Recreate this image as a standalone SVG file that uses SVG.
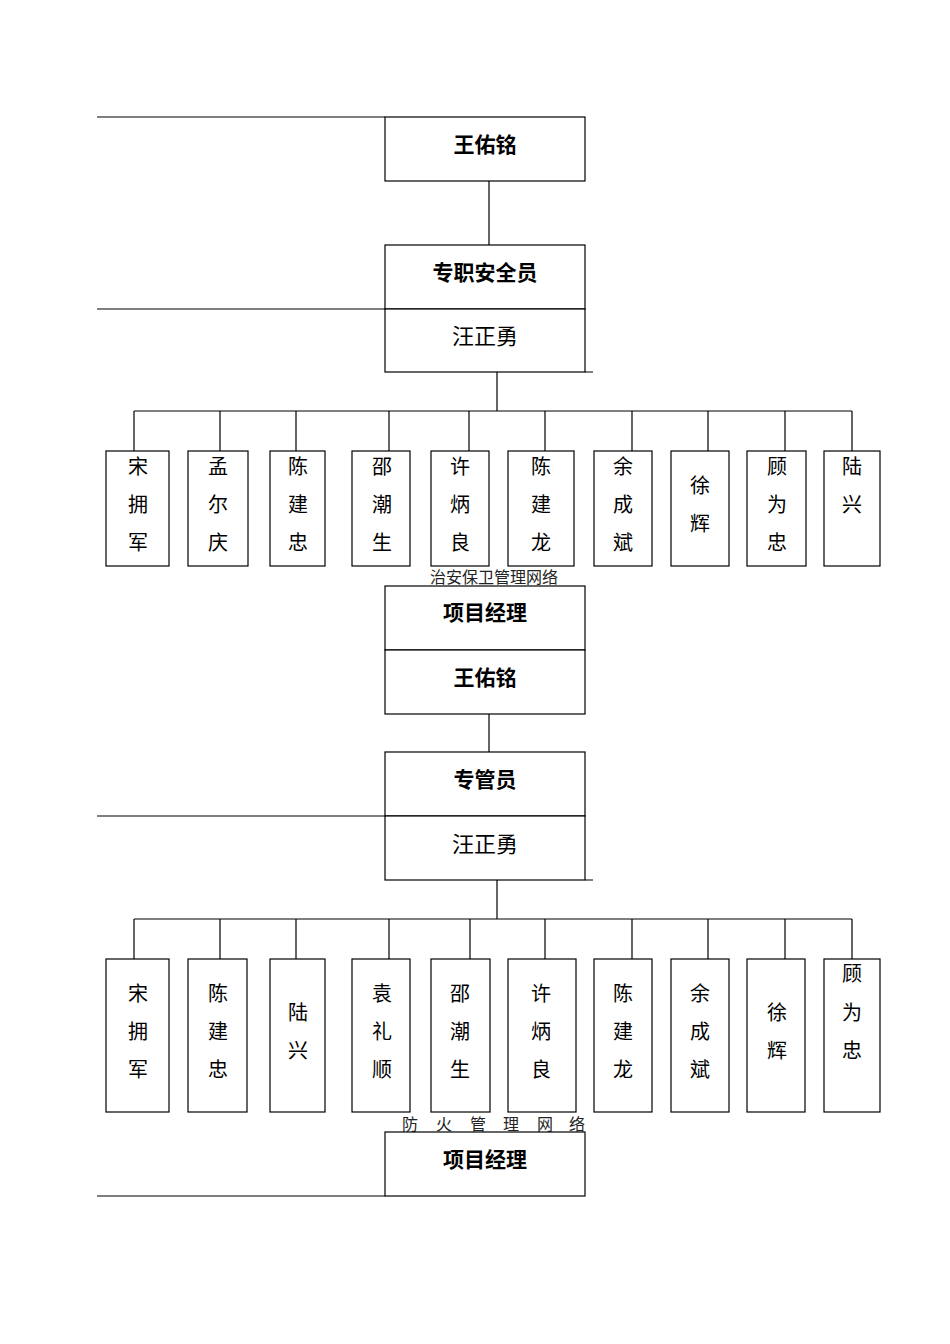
<svg xmlns="http://www.w3.org/2000/svg" width="950" height="1344" viewBox="0 0 950 1344">
<style>
.b{fill:#fff;stroke:#000;stroke-width:1.2}
.l{stroke:#000;stroke-width:1.2;fill:none}
.h{font-family:"Noto Sans CJK SC",sans-serif;font-size:21px;font-weight:bold;text-anchor:middle;dominant-baseline:central}
.h2{font-family:"Noto Sans CJK SC",sans-serif;font-size:22px;text-anchor:middle;dominant-baseline:central}
.n{font-family:"Noto Sans CJK SC",sans-serif;font-size:20px;text-anchor:middle;dominant-baseline:central}
.t{font-family:"Noto Sans CJK SC",sans-serif;font-size:16px;text-anchor:middle;dominant-baseline:central;fill:#222}
</style>
<rect width="950" height="1344" fill="#fff"/>
<g id="connectors">
<path class="l" d="M97 117H385M489 181V245M97 309H385M585 372H593M497 372V411M134 411H852M134 411V451M220 411V451M296 411V451M389 411V451M469 411V451M545 411V451M632 411V451M708 411V451M785 411V451M852 411V451"/>
<path class="l" d="M489 714V752M97 816H385M585 880H593M497 880V919M134 919H852M134 919V959M220 919V959M296 919V959M389 919V959M470 919V959M545 919V959M632 919V959M708 919V959M785 919V959M852 919V959M97 1196H385"/>
</g>
<g id="n1"><rect class="b" x="385" y="117" width="200" height="64"/><text class="h" x="485" y="143">王佑铭</text></g>
<g id="n2"><rect class="b" x="385" y="245" width="200" height="64"/><text class="h" x="485" y="271">专职安全员</text></g>
<g id="n3"><rect class="b" x="385" y="309" width="200" height="63"/><text class="h2" x="485" y="334">汪正勇</text></g>
<g id="c1"><rect class="b" x="106" y="451" width="63" height="115"/><text class="n" x="138" y="465">宋</text><text class="n" x="138" y="503">拥</text><text class="n" x="138" y="541">军</text></g>
<g id="c2"><rect class="b" x="188" y="451" width="60" height="115"/><text class="n" x="218" y="465">孟</text><text class="n" x="218" y="503">尔</text><text class="n" x="218" y="541">庆</text></g>
<g id="c3"><rect class="b" x="270" y="451" width="55" height="115"/><text class="n" x="298" y="465">陈</text><text class="n" x="298" y="503">建</text><text class="n" x="298" y="541">忠</text></g>
<g id="c4"><rect class="b" x="352" y="451" width="58" height="115"/><text class="n" x="382" y="465">邵</text><text class="n" x="382" y="503">潮</text><text class="n" x="382" y="541">生</text></g>
<g id="c5"><rect class="b" x="431" y="451" width="58" height="115"/><text class="n" x="460" y="465">许</text><text class="n" x="460" y="503">炳</text><text class="n" x="460" y="541">良</text></g>
<g id="c6"><rect class="b" x="508" y="451" width="66" height="115"/><text class="n" x="541" y="465">陈</text><text class="n" x="541" y="503">建</text><text class="n" x="541" y="541">龙</text></g>
<g id="c7"><rect class="b" x="594" y="451" width="58" height="115"/><text class="n" x="623" y="465">余</text><text class="n" x="623" y="503">成</text><text class="n" x="623" y="541">斌</text></g>
<g id="c8"><rect class="b" x="671" y="451" width="58" height="115"/><text class="n" x="700" y="484">徐</text><text class="n" x="700" y="522">辉</text></g>
<g id="c9"><rect class="b" x="747" y="451" width="59" height="115"/><text class="n" x="777" y="465">顾</text><text class="n" x="777" y="503">为</text><text class="n" x="777" y="541">忠</text></g>
<g id="c10"><rect class="b" x="824" y="451" width="56" height="115"/><text class="n" x="852" y="465">陆</text><text class="n" x="852" y="503">兴</text></g>
<text class="t" x="494" y="576">治安保卫管理网络</text>
<g id="m1"><rect class="b" x="385" y="586" width="200" height="64"/><text class="h" x="485" y="611">项目经理</text></g>
<g id="m2"><rect class="b" x="385" y="650" width="200" height="64"/><text class="h" x="485" y="676">王佑铭</text></g>
<g id="m3"><rect class="b" x="385" y="752" width="200" height="64"/><text class="h" x="485" y="778">专管员</text></g>
<g id="m4"><rect class="b" x="385" y="816" width="200" height="64"/><text class="h2" x="485" y="842">汪正勇</text></g>
<g id="d1"><rect class="b" x="106" y="959" width="63" height="153"/><text class="n" x="138" y="992">宋</text><text class="n" x="138" y="1030">拥</text><text class="n" x="138" y="1068">军</text></g>
<g id="d2"><rect class="b" x="188" y="959" width="59" height="153"/><text class="n" x="218" y="992">陈</text><text class="n" x="218" y="1030">建</text><text class="n" x="218" y="1068">忠</text></g>
<g id="d3"><rect class="b" x="270" y="959" width="55" height="153"/><text class="n" x="298" y="1011">陆</text><text class="n" x="298" y="1049">兴</text></g>
<g id="d4"><rect class="b" x="352" y="959" width="58" height="153"/><text class="n" x="382" y="992">袁</text><text class="n" x="382" y="1030">礼</text><text class="n" x="382" y="1068">顺</text></g>
<g id="d5"><rect class="b" x="431" y="959" width="59" height="153"/><text class="n" x="460" y="992">邵</text><text class="n" x="460" y="1030">潮</text><text class="n" x="460" y="1068">生</text></g>
<g id="d6"><rect class="b" x="508" y="959" width="68" height="153"/><text class="n" x="541" y="992">许</text><text class="n" x="541" y="1030">炳</text><text class="n" x="541" y="1068">良</text></g>
<g id="d7"><rect class="b" x="594" y="959" width="58" height="153"/><text class="n" x="623" y="992">陈</text><text class="n" x="623" y="1030">建</text><text class="n" x="623" y="1068">龙</text></g>
<g id="d8"><rect class="b" x="671" y="959" width="58" height="153"/><text class="n" x="700" y="992">余</text><text class="n" x="700" y="1030">成</text><text class="n" x="700" y="1068">斌</text></g>
<g id="d9"><rect class="b" x="747" y="959" width="58" height="153"/><text class="n" x="777" y="1011">徐</text><text class="n" x="777" y="1049">辉</text></g>
<g id="d10"><rect class="b" x="824" y="959" width="56" height="153"/><text class="n" x="852" y="972">顾</text><text class="n" x="852" y="1011">为</text><text class="n" x="852" y="1049">忠</text></g>
<text class="t" x="410" y="1123">防</text><text class="t" x="444" y="1123">火</text><text class="t" x="478" y="1123">管</text><text class="t" x="511" y="1123">理</text><text class="t" x="545" y="1123">网</text><text class="t" x="577" y="1123">络</text>
<g id="p1"><rect class="b" x="385" y="1132" width="200" height="64"/><text class="h" x="485" y="1158">项目经理</text></g>
</svg>
